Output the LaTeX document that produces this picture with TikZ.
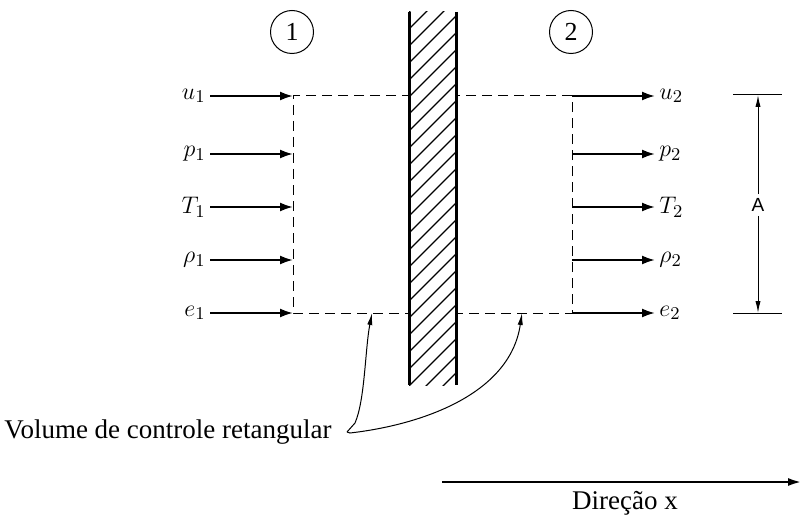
\documentclass[tikz,border=0pt]{standalone}
\usepackage{fontspec}
\setmainfont{Liberation Serif}
\setsansfont{Liberation Sans}
\usepackage{tikz}
\usetikzlibrary{arrows.meta, positioning}

\begin{document}
\begin{tikzpicture}[
      x=0.5pt, y=-0.5pt,
      >=Latex,
      flow/.style={-{Latex[length=6.5pt, width=4.5pt]}, line width=1pt},
      cv/.style={line width=0.5pt, dash pattern=on 5pt off 3pt},
      dim/.style={-{Latex[length=6pt, width=2.6pt]}, line width=0.5pt},
      lbl/.style={inner sep=2pt, font=\fontsize{13}{15}\selectfont},
      station/.style={circle, draw, line width=0.5pt, minimum size=21.5pt, inner sep=0pt, font=\fontsize{13}{15}\selectfont}
    ]
    \useasboundingbox (0,0) rectangle (803,519);

    % control volume
    \coordinate (cvtl) at (293,96);
    \coordinate (cvbl) at (293,313);
    \coordinate (cvtr) at (572,96);
    \coordinate (cvbr) at (572,313);
    \draw[cv] (cvtr) -- (cvtl) -- (cvbl) -- (cvbr) -- cycle;

    % wall
    \fill[white] (409,12) rectangle (456,385);
    \begin{scope}
      \clip (409,12) rectangle (456,385);
      \foreach \c in {12,29,...,440}
        \draw[line width=0.6pt] (409,\c) -- (456,\c-47);
    \end{scope}
    \draw[line width=1.5pt] (409,12) -- (409,385);
    \draw[line width=1.5pt] (456,12) -- (456,385);

    % stations
    \node[station] (st1) at (292,32) {1};
    \node[station] (st2) at (571,32) {2};

    % inflow / outflow
    \foreach \y/\n/\a/\b in {96/u/u_1/u_2, 154/p/p_1/p_2, 207/T/T_1/T_2, 260/rho/\rho_1/\rho_2, 313/e/e_1/e_2} {
      \node[lbl, anchor=east] (\n1) at (210,\y) {$\a$};
      \coordinate (\n1in) at (293,\y);
      \draw[flow] (\n1) -- (\n1in);
      \coordinate (\n2out) at (572,\y);
      \node[lbl, anchor=west] (\n2) at (655,\y) {$\b$};
      \draw[flow] (\n2out) -- (\n2);
    }

    % area
    \coordinate (dimtop) at (758,95);
    \coordinate (dimbot) at (758,313);
    \draw[line width=0.5pt] (733,95) -- (782,95);
    \draw[line width=0.5pt] (733,313) -- (782,313);
    \node[lbl, font=\sffamily\fontsize{9.5}{11}\selectfont, fill=white] (area) at (758,205) {A};
    \draw[dim] (area) -- (dimtop);
    \draw[dim] (area) -- (dimbot);

    % control volume label
    \node[lbl, anchor=east, font=\fontsize{13.5}{16}\selectfont] (vcr) at (336,432) {Volume de controle retangular};
    \coordinate (knee) at (347,432);
    \coordinate (cvleft) at (372,313);
    \coordinate (cvright) at (522,313);
    \draw[dim] (knee) -- (355,423) .. controls (365,400) and (365,350) .. (cvleft);
    \draw[dim] (knee) -- (350,433) .. controls (420,425) and (510,395) .. (cvright);

    % x direction
    \coordinate (xstart) at (442,482);
    \coordinate (xend) at (802,482);
    \draw[-{Latex[length=7pt, width=4pt]}, line width=1.3pt] (xstart) -- (xend);
    \node[lbl, font=\fontsize{13.5}{16}\selectfont] (dirx) at (625,503) {Direção x};
  \end{tikzpicture}
\end{document}
